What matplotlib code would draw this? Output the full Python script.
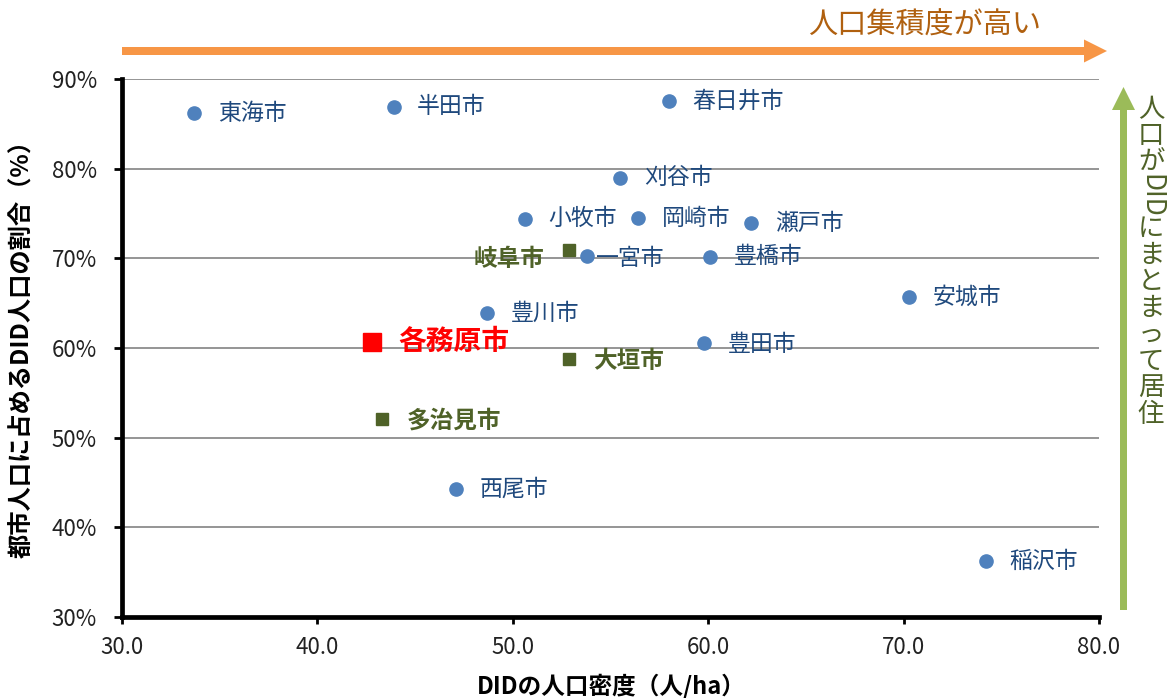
import matplotlib
matplotlib.use('Agg')
import matplotlib.pyplot as plt
from matplotlib.patches import FancyArrow
from matplotlib.transforms import IdentityTransform
from matplotlib.ticker import FuncFormatter, MultipleLocator

plt.rcParams['font.family'] = ['Noto Sans CJK JP', 'DejaVu Sans']

# DID population density (人/ha) and share of city population living in DID (%)
cities = ['東海市', '半田市', '春日井市', '刈谷市', '小牧市', '岡崎市', '瀬戸市',
          '一宮市', '豊橋市', '安城市', '豊川市', '豊田市', '西尾市', '稲沢市',
          '岐阜市', '大垣市', '多治見市', '各務原市']
density = [33.7, 43.9, 58.0, 55.5, 50.6, 56.4, 62.2,
           53.8, 60.1, 70.3, 48.7, 59.8, 47.1, 74.2,
           52.9, 52.9, 43.3, 42.8]
share = [86.2, 86.9, 87.5, 79.0, 74.4, 74.5, 73.9,
         70.3, 70.2, 65.7, 63.9, 60.6, 44.3, 36.2,
         70.9, 58.8, 52.1, 60.7]
group = ['aichi'] * 14 + ['gifu'] * 3 + ['target']

STYLE = {
    'aichi':  dict(marker='o', ms=9.5, mc='#4F81BD', tc='#1F497D', fs=16.5, fw='normal'),
    'gifu':   dict(marker='s', ms=8.5, mc='#4F6228', tc='#4F6228', fs=17, fw='bold'),
    'target': dict(marker='s', ms=12.5, mc='#FF0000', tc='#FF0000', fs=20, fw='bold'),
}
# label offsets in points (dx, dy); default is to the right of the marker
OFFSETS = {'一宮市': (6.5, -2), '岐阜市': (-18, -6), '大垣市': (17, -1.5),
           '多治見市': (18, -1.5), '豊田市': (17, -1.5), '各務原市': (19, 0)}

fig = plt.figure(figsize=(11.74, 6.98), dpi=100)
ax = fig.add_axes([122 / 1174, 81 / 698, 977 / 1174, 538 / 698])

for c, x, y, g in zip(cities, density, share, group):
    st = STYLE[g]
    ax.plot(x, y, st['marker'], ms=st['ms'], color=st['mc'], mec=st['mc'],
            zorder=3, clip_on=False)
    dx, dy = OFFSETS.get(c, (17, 0))
    ha = 'right' if dx < 0 else 'left'
    ax.annotate(c, (x, y), xytext=(dx, dy), textcoords='offset points',
                ha=ha, va='center', color=st['tc'], fontsize=st['fs'],
                fontweight=st['fw'], zorder=4)

ax.set_xlim(30, 80)
ax.set_ylim(30, 90)
ax.xaxis.set_major_locator(MultipleLocator(10))
ax.yaxis.set_major_locator(MultipleLocator(10))
ax.xaxis.set_major_formatter(FuncFormatter(lambda v, p: f'{v:.1f}'))
ax.yaxis.set_major_formatter(FuncFormatter(lambda v, p: f'{v:.0f}%'))
ax.grid(axis='y', color='#8C8C8C', lw=1.3)
ax.set_axisbelow(True)
for s in ['top', 'right']:
    ax.spines[s].set_visible(False)
for s in ['left', 'bottom']:
    ax.spines[s].set_linewidth(3.4)
    ax.spines[s].set_color('black')
ax.tick_params(axis='y', direction='out', length=6, width=2, pad=12,
               labelsize=16, labelcolor='#222222')
ax.tick_params(axis='x', direction='out', length=5, width=2, pad=9,
               labelsize=16, labelcolor='#222222')

fig.text(22 / 1174, 1 - 343 / 698, '都市人口に占めるDID人口の割合（%）', rotation=90,
         ha='center', va='center', fontsize=17.5, fontweight='bold')
fig.text(611 / 1174, 1 - 686 / 698, 'DIDの人口密度（人/ha）',
         ha='center', va='center', fontsize=17, fontweight='bold')

# orange arrow: density increases to the right
fig.add_artist(FancyArrow(122, 698 - 51, 985, 0, width=8, head_width=23,
                          head_length=23, length_includes_head=True,
                          color='#F79646', lw=0, transform=IdentityTransform()))
fig.text(808 / 1174, 1 - 26 / 698, '人口集積度が高い', ha='left', va='center',
         fontsize=21, color='#B0600F')

# green arrow: share increases upward
fig.add_artist(FancyArrow(1123.5, 698 - 610, 0, 523, width=7, head_width=23,
                          head_length=23, length_includes_head=True,
                          color='#9BBB59', lw=0, transform=IdentityTransform()))

# vertical caption, stacked character by character
vert = [('人', 0), ('口', 0), ('が', 0), ('DID', -90), ('に', 0), ('ま', 0),
        ('と', 0), ('ま', 0), ('っ', 0), ('て', 0), ('居', 0), ('住', 0)]
ypix = 96
for ch, rot in vert:
    step = 40 if rot else 26.5
    fig.text(1151 / 1174, 1 - (ypix + step / 2) / 698, ch, rotation=rot,
             ha='center', va='center', fontsize=19, color='#4F6228')
    ypix += step

fig.savefig('out.png', dpi=100)
